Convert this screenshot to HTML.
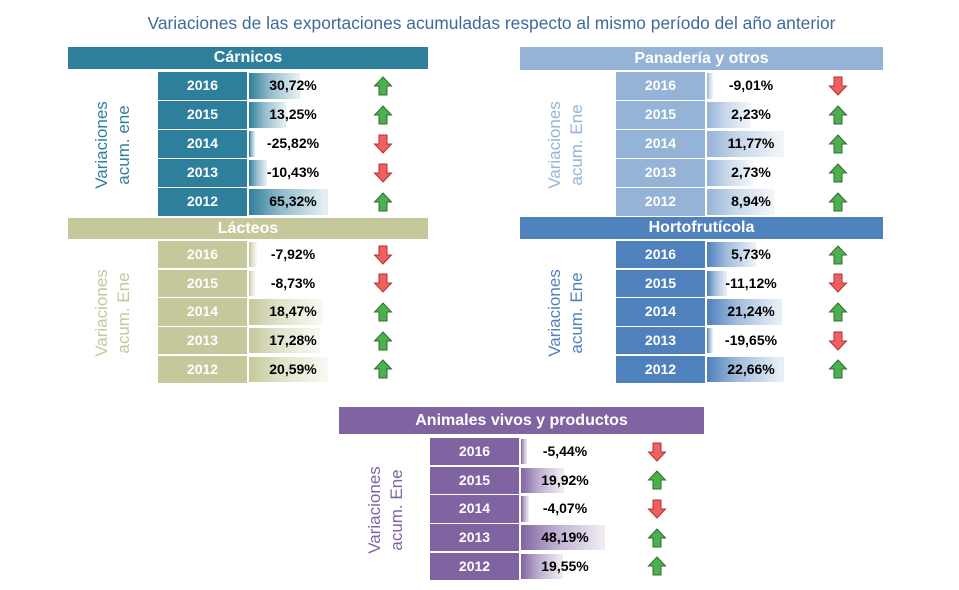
<!DOCTYPE html>
<html><head><meta charset="utf-8"><style>
body{margin:0;width:959px;height:588px;background:#fff;font-family:"Liberation Sans",sans-serif;position:relative;overflow:hidden}
.t{position:absolute;left:12px;width:959px;top:13px;text-align:center;font-size:17.4px;color:#3f6a9c;font-family:"Liberation Sans",sans-serif}
.hd{position:absolute;color:#fff;font-weight:bold;font-size:16px;text-align:center}
.yr{position:absolute;color:#fff;font-weight:bold;font-size:14px;text-align:center}
.bar{position:absolute}
.val{position:absolute;font-weight:bold;font-size:14px;text-align:center;width:80px;color:#000}
.vl{position:absolute;transform:rotate(-90deg);transform-origin:center;text-align:center;font-size:17px;line-height:22px}
svg{position:absolute}
</style></head><body>
<div class="t">Variaciones de las exportaciones acumuladas respecto al mismo período del año anterior</div>
<script>
const years=["2016","2015","2014","2013","2012"];
const carnicos=[30.72,13.25,-25.82,-10.43,65.32];
const lacteos=[-7.92,-8.73,18.47,17.28,20.59];
const panaderia=[-9.01,2.23,11.77,2.73,8.94];
const hortofruticola=[5.73,-11.12,21.24,-19.65,22.66];
const animales=[-5.44,19.92,-4.07,48.19,19.55];
const panels=[
 {name:"Cárnicos",slug:"carnicos",vals:carnicos,hx:68,hy:47,hw:360,hh:22,yx:158,ry:72,pitch:29,color:"#2e7f9c",label:"Variaciones<br>acum. ene",lx:113,ax:383,maxW:79},
 {name:"Lácteos",slug:"lacteos",vals:lacteos,hx:68,hy:218,hw:360,hh:21,yx:158,ry:241,pitch:28.7,color:"#c4c89a",label:"Variaciones<br>acum. Ene",lx:113,ax:383,maxW:79},
 {name:"Panadería y otros",slug:"panaderia",vals:panaderia,hx:520,hy:47,hw:363,hh:23,yx:616,ry:72,pitch:29,color:"#95b3d7",label:"Variaciones<br>acum. Ene",lx:566,ax:838,maxW:77},
 {name:"Hortofrutícola",slug:"hortofruticola",vals:hortofruticola,hx:520,hy:217,hw:363,hh:22,yx:616,ry:241,pitch:28.7,color:"#4f81bd",label:"Variaciones<br>acum. Ene",lx:566,ax:838,maxW:77},
 {name:"Animales vivos y productos",slug:"animales",vals:animales,hx:339,hy:407,hw:365,hh:27,yx:430,ry:438,pitch:28.7,color:"#8064a2",label:"Variaciones<br>acum. Ene",lx:386,ax:657,maxW:84}
];
function fmt(v){return v.toFixed(2).replace('.',',')+'%';}
panels.forEach(p=>{
 const h=document.createElement('div');h.className='hd';
 
 
 h.style.cssText=`left:${p.hx}px;top:${p.hy}px;width:${p.hw}px;height:${p.hh}px;line-height:${p.hh}px;background:${p.color}`;
 h.textContent=p.name;document.body.appendChild(h);
 const total=p.pitch*5;
 const l=document.createElement('div');l.className='vl';
 
 
 l.style.cssText=`left:${p.lx-80}px;top:${p.ry+total/2-22}px;width:160px;color:${p.color}`;
 l.innerHTML=p.label;document.body.appendChild(l);
 const mn=Math.min(...p.vals),mx=Math.max(...p.vals);
 const sc=v=>6+(v-mn)/(mx-mn)*(p.maxW-6);
 p.vals.forEach((v,i)=>{
  const y=p.ry+i*p.pitch, hh=p.pitch-1.5;
  const c=document.createElement('div');c.className='yr';
  
  
  c.style.cssText=`left:${p.yx}px;top:${y}px;width:89px;height:${hh}px;line-height:${hh}px;background:${p.color}`;
  c.textContent=years[i];document.body.appendChild(c);
  const b=document.createElement('div');b.className='bar';
  
  
  b.style.cssText=`left:${p.yx+91}px;top:${y+1}px;width:${sc(v)}px;height:${hh-2}px;background:linear-gradient(to right,${p.color},${p.color}88 40%,${p.color}22 95%)`;
  document.body.appendChild(b);
  const t=document.createElement('div');t.className='val';
  
  
  t.style.cssText=`left:${p.yx+135-40}px;top:${y}px;height:${hh}px;line-height:${hh}px`;
  t.textContent=fmt(v);document.body.appendChild(t);
  const s=document.createElementNS('http://www.w3.org/2000/svg','svg');
  
  
  s.setAttribute('width','20');s.setAttribute('height','20');
  s.style.left=(p.ax-10)+'px';s.style.top=(y+hh/2-10)+'px';
  const up=v>=0;
  const pts=up?"10,1 18.5,10 14,10 14,19 6,19 6,10 1.5,10":"10,19 18.5,10 14,10 14,1 6,1 6,10 1.5,10";
  s.innerHTML=`<polygon points="${pts}" fill="${up?'#4caf50':'#f06060'}" stroke="${up?'#2d6e2d':'#b03030'}" stroke-width="1"/>`;
  document.body.appendChild(s);
 });
});
</script>
</body></html>
